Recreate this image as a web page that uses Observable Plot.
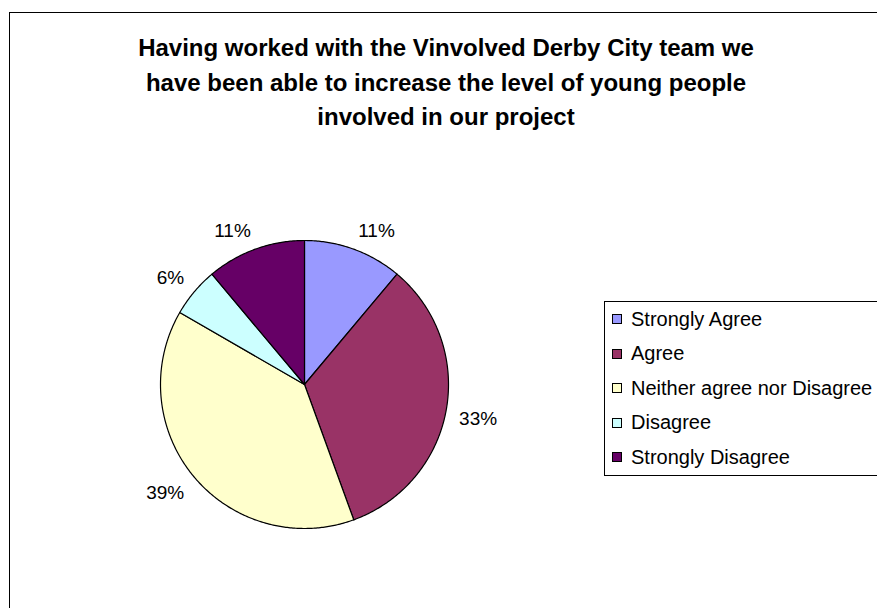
<!DOCTYPE html>
<html><head><meta charset="utf-8">
<script src="https://cdn.jsdelivr.net/npm/d3@7"></script>
<script src="https://cdn.jsdelivr.net/npm/@observablehq/plot@0.6"></script>
<style>
body{margin:0;background:#fff;font-family:Arial,"Liberation Sans",sans-serif;}
#wrap{position:relative;width:877px;height:608px;overflow:hidden;background:#fff;}
#frame{position:absolute;left:9px;top:12px;width:1000px;height:800px;border:1px solid #000;box-sizing:border-box;}
#title{position:absolute;left:0;top:31px;width:892px;text-align:center;font-weight:bold;font-size:24px;line-height:34.5px;color:#000;}
#chart{position:absolute;left:0;top:0;}
#legend{position:absolute;left:604px;top:301px;width:340px;border:1px solid #000;background:#fff;padding:0 0 0 7px;font-size:20px;}
.item{height:34.5px;white-space:nowrap;display:flex;align-items:center;}
.sw{width:8px;height:8px;border:1px solid #000;margin-right:9px;flex:none;}
</style></head>
<body>
<div id="wrap">
  <div id="frame"></div>
  <div id="title"></div>
  <div id="chart"></div>
  <div id="legend"></div>
</div>
<script>
const title = "Having worked with the Vinvolved Derby City team we<br>have been able to increase the level of young people<br>involved in our project";
const categories = ["Strongly Agree", "Agree", "Neither agree nor Disagree", "Disagree", "Strongly Disagree"];
const counts = [2, 6, 7, 1, 2];
const colors = ["#9999FF", "#993366", "#FFFFCC", "#CCFFFF", "#660066"];

document.getElementById("title").innerHTML = title;

const W = 877, H = 608;
const cx = 304, cy = 384, r = 144, labelR = 157;
const total = d3.sum(counts);
const pie = d3.pie().sort(null).value(d => d.value)(
  categories.map((c, i) => ({category: c, value: counts[i], color: colors[i]}))
);

const pts = [];
pie.forEach(s => {
  const n = Math.max(2, Math.ceil((s.endAngle - s.startAngle) / 0.01));
  pts.push({key: s.data.category, color: s.data.color, x: cx, y: cy});
  for (let k = 0; k <= n; k++) {
    const a = s.startAngle + (s.endAngle - s.startAngle) * k / n;
    pts.push({key: s.data.category, color: s.data.color, x: cx + r * Math.sin(a), y: cy - r * Math.cos(a)});
  }
});

const labels = pie.map(s => {
  const a = (s.startAngle + s.endAngle) / 2;
  const sx = Math.sin(a), cy_ = Math.cos(a);
  return {
    text: d3.format(".0%")(s.data.value / total),
    x: cx + labelR * sx,
    y: cy - labelR * cy_,
    anchor: sx >= 0 ? "start" : "end",
    line: cy_ >= 0 ? "bottom" : "top"
  };
});

const plot = Plot.plot({
  width: W, height: H,
  margin: 0,
  x: {domain: [0, W], range: [0, W], axis: null},
  y: {domain: [0, H], range: [0, H], axis: null},
  color: {type: "identity"},
  style: {background: "transparent", fontFamily: "Arial, 'Liberation Sans', sans-serif"},
  marks: [
    Plot.line(pts, {x: "x", y: "y", z: "key", fill: "color", stroke: "#000", strokeWidth: 1.2, curve: "linear-closed"}),
    ...["start", "end"].flatMap(ta => ["top", "bottom"].map(la =>
      Plot.text(labels.filter(d => d.anchor === ta && d.line === la),
        {x: "x", y: "y", text: "text", fontSize: 19, fill: "#000", textAnchor: ta, lineAnchor: la})
    ))
  ]
});
document.getElementById("chart").appendChild(plot);

const leg = document.getElementById("legend");
categories.forEach((c, i) => {
  const d = document.createElement("div");
  d.className = "item";
  d.innerHTML = `<span class="sw" style="background:${colors[i]}"></span><span>${c}</span>`;
  leg.appendChild(d);
});
</script>
</body></html>
